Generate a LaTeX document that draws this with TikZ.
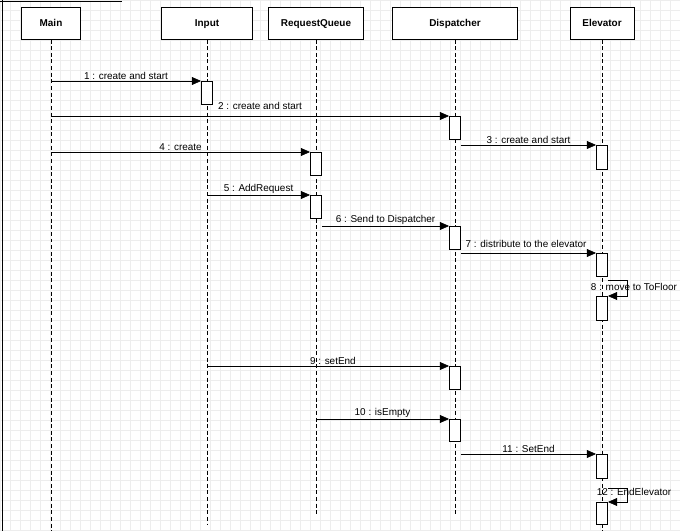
\documentclass[tikz,border=0pt]{standalone}
\usepackage{fontspec}
\setmainfont{Liberation Sans}
\usetikzlibrary{positioning,calc,arrows.meta}

\begin{document}
\begin{tikzpicture}[x=0.0265cm,y=-0.0265cm]%
        \tikzstyle{head}=[draw, fill=white, minimum height=0.85cm, font=\bfseries\fontsize{7.5}{9}\selectfont, anchor=north, inner sep=0pt, text depth=0pt];%
        \tikzstyle{act}=[draw, fill=white, minimum width=0.3cm, inner sep=0pt, anchor=north];%
        \tikzstyle{msg}=[-{Triangle[length=7pt,width=6pt]}, line width=0.5pt];%
        \tikzstyle{lbl}=[font=\fontsize{7.5}{9}\selectfont, inner sep=1pt];%
        \useasboundingbox (0,0) rectangle (680,531);
        \fill[white] (0,0) rectangle (680,531);
        \foreach \i in {0,...,68} \draw[black!7] (\i*10,0) -- (\i*10,531);
        \foreach \i in {0,...,53} \draw[black!7] (0,\i*10) -- (680,\i*10);
        \draw (0,1) -- (122,1);
        \draw (2,0) -- (2,531);

        % heads
        \node[head, minimum width=59*0.0265cm] (main) at (51,7) {Main};
        \node[head, minimum width=91*0.0265cm] (input) at (207,7) {Input};
        \node[head, minimum width=95*0.0265cm] (queue) at (316,7) {RequestQueue};
        \node[head, minimum width=125*0.0265cm] (disp) at (455,7) {Dispatcher};
        \node[head, minimum width=64*0.0265cm] (elev) at (602,7) {Elevator};

        % lifelines
        \coordinate (mainE) at (51,531);
        \coordinate (inputE) at (207,524);
        \coordinate (queueE) at (316,516);
        \coordinate (dispE) at (455,516);
        \coordinate (elevE) at (602,531);
        \foreach \n in {main,input,queue,disp,elev}
            \draw[densely dashed, line width=0.4pt] (\n.south) -- (\n E);

        % activations
        \node[act, minimum height=23*0.0265cm] (a1) at (207,81) {};
        \node[act, minimum height=23*0.0265cm] (a2) at (455,116) {};
        \node[act, minimum height=24*0.0265cm] (a3) at (602,145) {};
        \node[act, minimum height=23*0.0265cm] (a4) at (316,152) {};
        \node[act, minimum height=23*0.0265cm] (a5) at (316,195) {};
        \node[act, minimum height=23*0.0265cm] (a6) at (455,226) {};
        \node[act, minimum height=23*0.0265cm] (a7) at (602,253) {};
        \node[act, minimum height=24*0.0265cm] (a8) at (602,296) {};
        \node[act, minimum height=23*0.0265cm] (a9) at (455,366) {};
        \node[act, minimum height=22*0.0265cm] (a10) at (455,419) {};
        \node[act, minimum height=24*0.0265cm] (a11) at (602,454) {};
        \node[act, minimum height=22*0.0265cm] (a12) at (602,502) {};

        % messages
        \draw[msg] (main |- a1.north) -- node[lbl, above] {1 : create and start} (a1.north west);
        \draw[msg] (main |- a2.north) -- (a2.north west);
        \node[lbl] (l2) at (260,106) {2 : create and start};
        \draw[msg] (a2.north east |- a3.north) -- node[lbl, above] {3 : create and start} (a3.north west);
        \draw[msg] (main |- a4.north) -- node[lbl, above, pos=0.5] {4 : create} (a4.north west);
        \draw[msg] (input |- a5.north) -- node[lbl, above] {5 : AddRequest} (a5.north west);
        \draw[msg] (a5.south east |- a6.north) -- node[lbl, above] {6 : Send to Dispatcher} (a6.north west);
        \draw[msg] (a6.south east |- a7.north) -- (a7.north west);
        \node[lbl] (l7) at (526,244) {7 : distribute to the elevator};
        \coordinate (s8a) at (627,280);
        \coordinate (s8b) at (627,296);
        \draw[msg] (a7.east |- s8a) -- (s8a) -- (s8b) -- (a8.north east);
        \node[lbl] (l8) at (634,287) {8 : move to ToFloor};
        \draw[msg] (input |- a9.north) -- node[lbl, above, pos=0.52] {9 : setEnd} (a9.north west);
        \draw[msg] (queue |- a10.north) -- node[lbl, above] {10 : isEmpty} (a10.north west);
        \draw[msg] (a10.south east |- a11.north) -- node[lbl, above] {11 : SetEnd} (a11.north west);
        \coordinate (s12a) at (627,488);
        \coordinate (s12b) at (627,502);
        \draw[msg] (a11.east |- s12a) -- (s12a) -- (s12b) -- (a12.north east);
        \node[lbl] (l12) at (634,492) {12 : EndElevator};
    \end{tikzpicture}
\end{document}
